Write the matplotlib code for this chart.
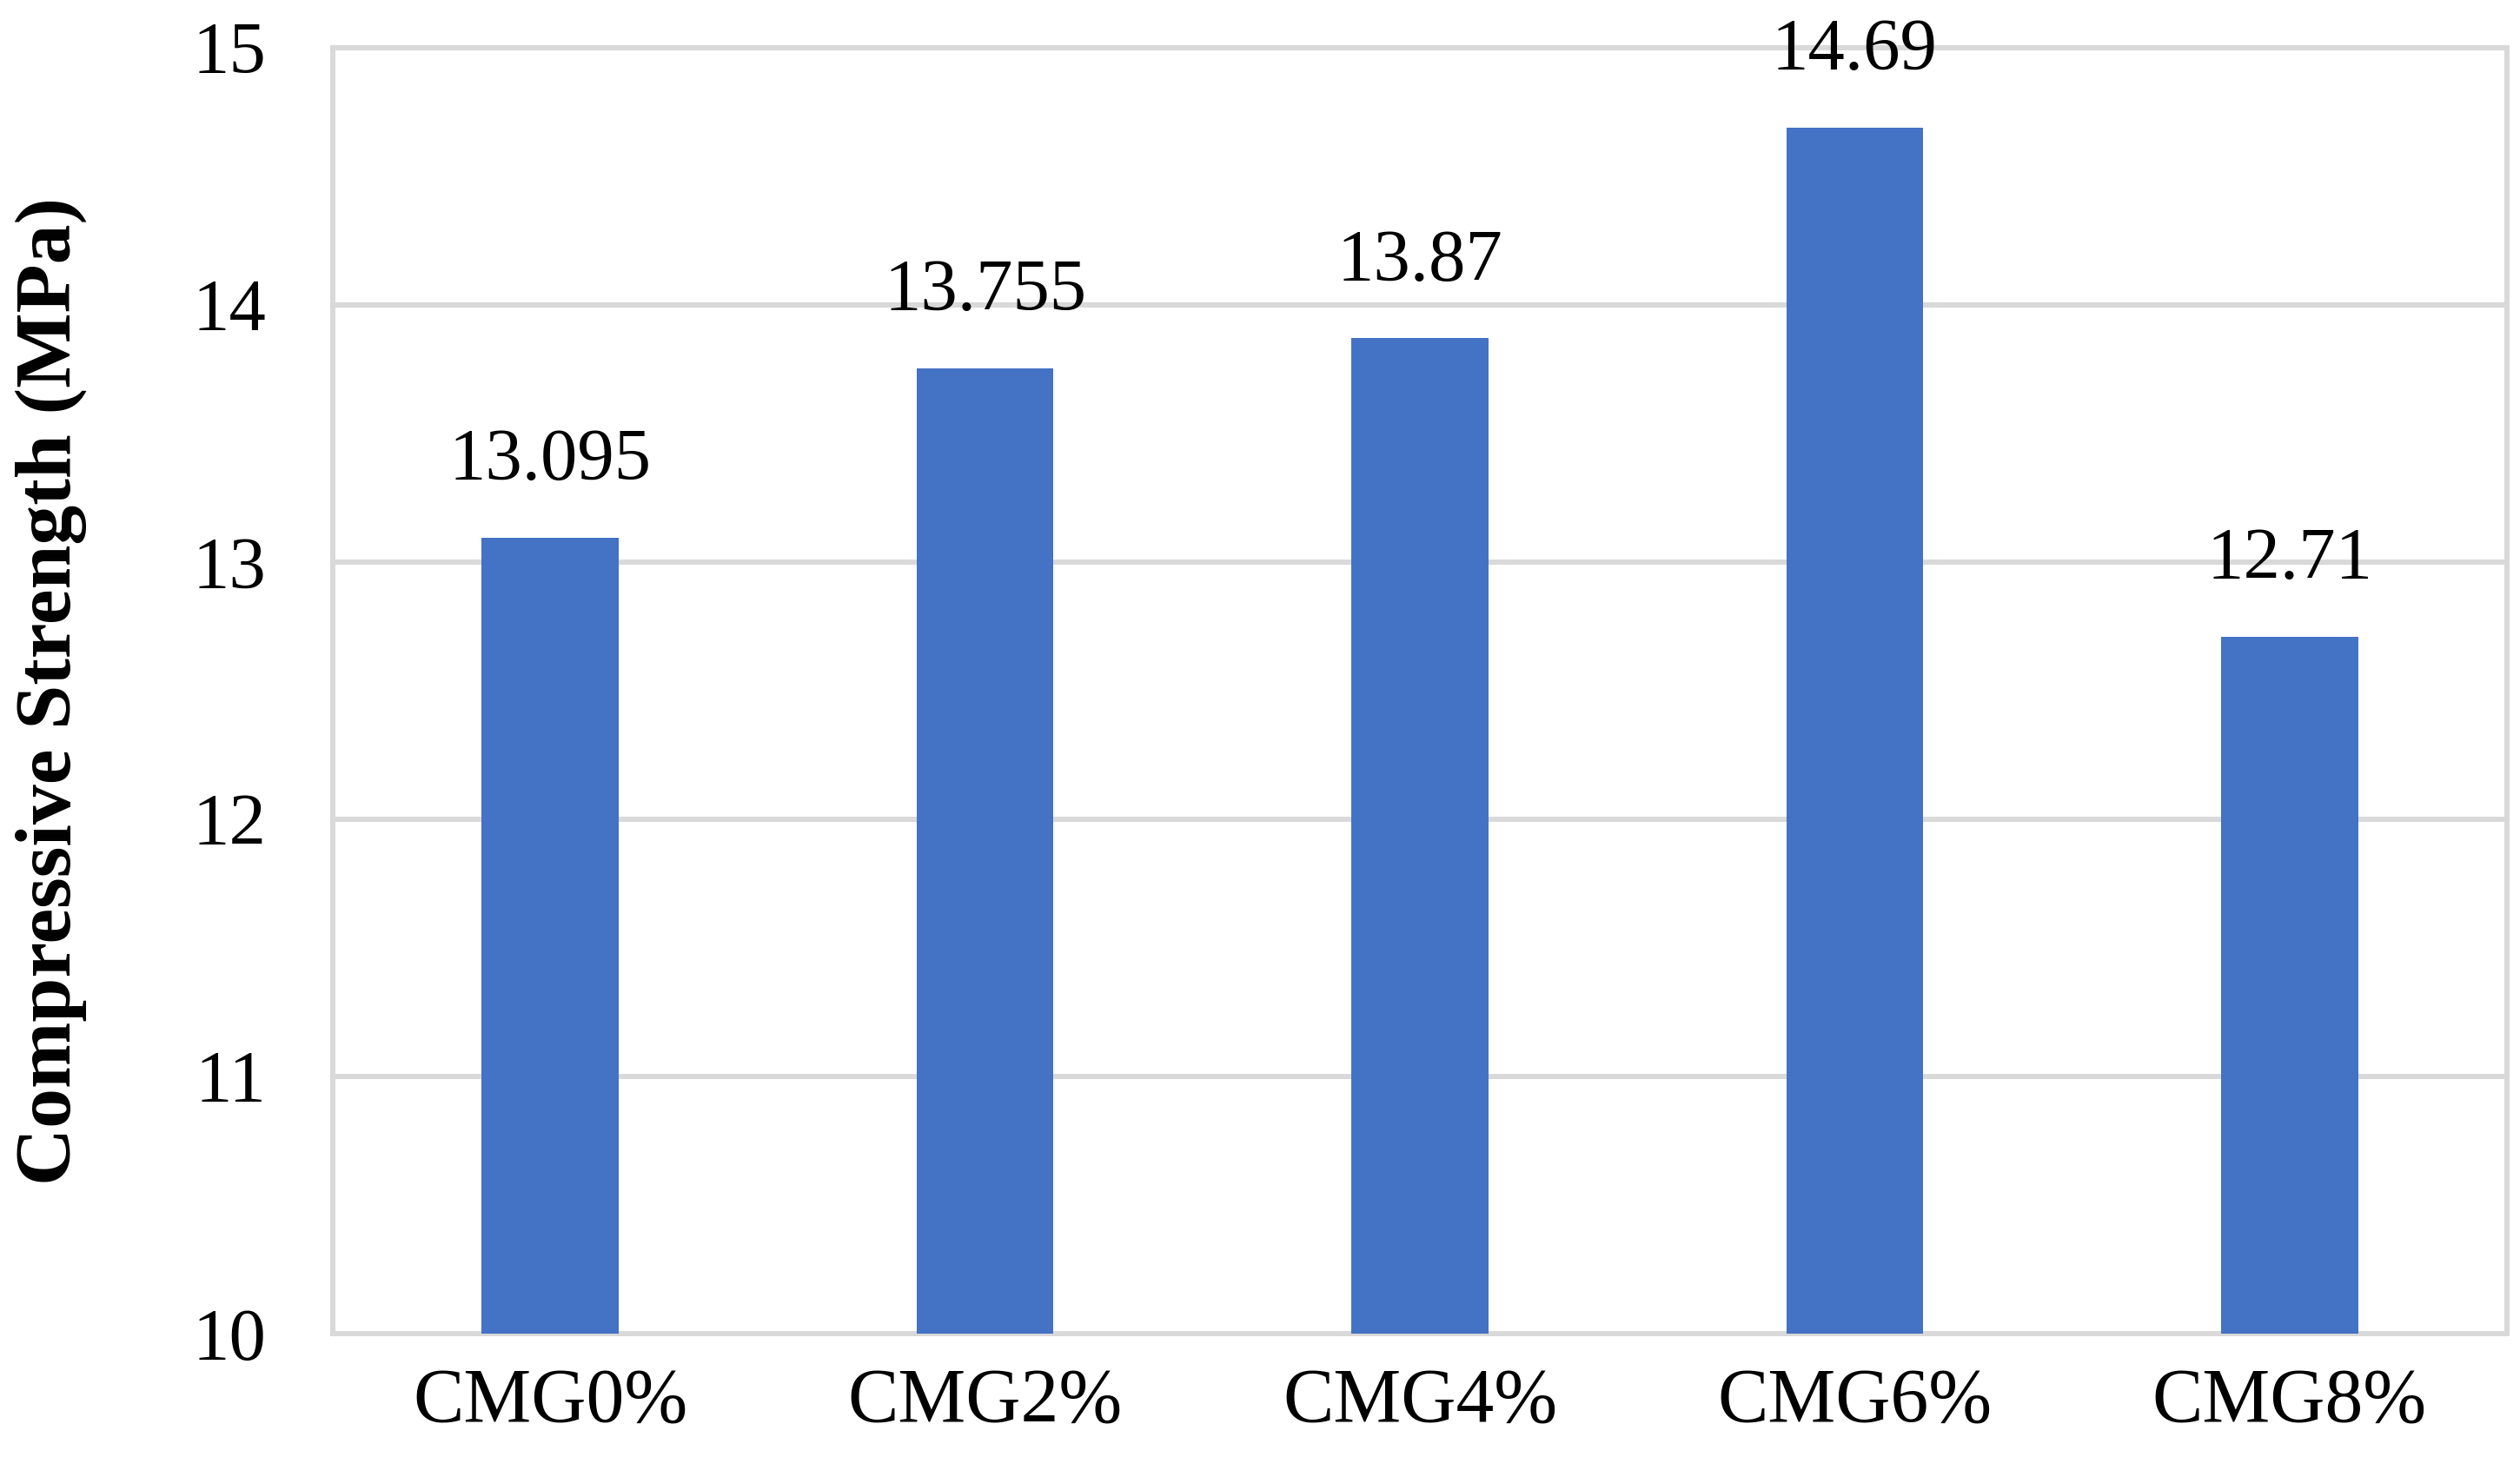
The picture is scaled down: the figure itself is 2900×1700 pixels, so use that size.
import matplotlib
matplotlib.use("Agg")
import matplotlib.pyplot as plt

categories = ["CMG0%", "CMG2%", "CMG4%", "CMG6%", "CMG8%"]
values = [13.095, 13.755, 13.87, 14.69, 12.71]
value_labels = ["13.095", "13.755", "13.87", "14.69", "12.71"]
yticks = [10, 11, 12, 13, 14, 15]

plt.rcParams['font.family'] = ['Liberation Serif', 'DejaVu Serif']

fig = plt.figure(figsize=(29, 17), dpi=100)
ax = fig.add_axes([383/2900, 1 - 1535/1700, (2885-383)/2900, (1535-55)/1700])

x = range(len(categories))
ax.bar(x, values, width=0.315, color="#4472C4", zorder=3)
ax.set_xlim(-0.5, len(categories) - 0.5)
ax.set_ylim(10, 15)
ax.set_yticks(yticks)
ax.set_xticks(list(x))
ax.set_xticklabels(categories)
ax.yaxis.grid(True, color="#d9d9d9", linewidth=4.3, zorder=0)
ax.xaxis.grid(False)
for s in ax.spines.values():
    s.set_color("#d9d9d9")
    s.set_linewidth(4.3)
ax.tick_params(axis='y', length=0, labelsize=61, pad=55)
ax.tick_params(axis='x', length=0, labelsize=63, pad=28)

for xi, v, lab in zip(x, values, value_labels):
    ax.annotate(lab, (xi, v), xytext=(0, 35), textcoords='offset points',
                ha='center', va='bottom', fontsize=61, clip_on=False, zorder=5)

ax.set_ylabel("Compressive Strength (MPa)", fontsize=66, fontweight='bold', labelpad=88)

fig.savefig("out.png", dpi=100, facecolor="white")
